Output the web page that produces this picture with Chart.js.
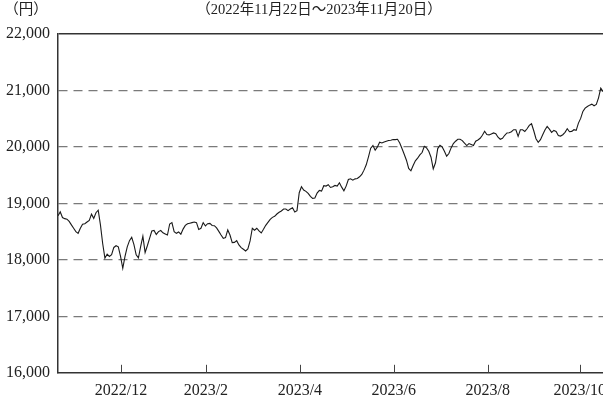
<!DOCTYPE html>
<html>
<head>
<meta charset="utf-8">
<script src="https://cdn.jsdelivr.net/npm/chart.js@4.4.1/dist/chart.umd.min.js"></script>
<style>
  html, body { margin: 0; padding: 0; background: #fff; overflow: hidden; }
  #wrap { width: 603px; height: 401px; }
</style>
</head>
<body>
<div id="wrap"><canvas id="chart" width="603" height="401"></canvas></div>
<script>
// daily close, 2022/11/22 - 2023/11/20 (trading day index)
const prices = [
  18780, 18850, 18750, 18730, 18720, 18680, 18620, 18560, 18500, 18470,
  18560, 18630, 18640, 18670, 18700, 18810, 18735, 18835, 18880, 18620,
  18290, 18030, 18100, 18060, 18090, 18220, 18250, 18230, 18060, 17850,
  18060, 18230, 18340, 18400, 18270, 18090, 18035, 18235, 18420, 18130,
  18250, 18380, 18510, 18520, 18450, 18500, 18520, 18480, 18460, 18440,
  18635, 18660, 18500, 18470, 18495, 18455, 18545, 18610, 18640, 18650,
  18660, 18670, 18660, 18540, 18560, 18660, 18600, 18640, 18645, 18610,
  18605, 18565, 18505, 18440, 18380, 18395, 18530, 18440, 18305, 18310,
  18340, 18265, 18217, 18188, 18158, 18194, 18335, 18560, 18524, 18560,
  18512, 18476, 18541, 18612, 18665, 18718, 18753, 18771, 18812, 18842,
  18865, 18900, 18900, 18871, 18900, 18924, 18848, 18871, 19189, 19295,
  19236, 19213, 19177, 19124, 19089, 19095, 19183, 19230, 19218, 19313,
  19307, 19330, 19282, 19294, 19318, 19306, 19365, 19288, 19223, 19306,
  19424, 19435, 19412, 19435, 19441, 19471, 19512, 19589, 19683, 19824,
  19977, 20024, 19942, 20001, 20083, 20071, 20089, 20101, 20113, 20119,
  20130, 20130, 20136, 20071, 19971, 19871, 19765, 19618, 19577, 19671,
  19753, 19800, 19859, 19901, 20010, 19983, 19924, 19818, 19610, 19720,
  19971, 20030, 20001, 19924, 19836, 19883, 19983, 20060, 20101, 20136,
  20136, 20113, 20066, 20024, 20060, 20042, 20024, 20101, 20124, 20154,
  20207, 20278, 20219, 20213, 20230, 20248, 20236, 20172, 20136, 20154,
  20207, 20248, 20250, 20269, 20305, 20305, 20187, 20305, 20305, 20275,
  20322, 20381, 20411, 20287, 20146, 20081, 20128, 20216, 20299, 20364,
  20316, 20258, 20293, 20275, 20204, 20193, 20216, 20258, 20322, 20269,
  20275, 20305, 20293, 20422, 20505, 20629, 20687, 20717, 20740, 20758,
  20729, 20752, 20870, 21040, 20980
];

// x tick labels and the trading-day index they sit on
const tickLabels = ["2022/12", "2023/2", "2023/4", "2023/6", "2023/8", "2023/10"];
const tickIndex = [28.2, 66.2, 108.3, 150.3, 192.4, 233.6];

const unitLabel = "（円）";
const periodLabel = "（2022年11月22日～2023年11月20日）";

const yMin = 16000, yMax = 22000, yStep = 1000;

Chart.defaults.font.family = "'Liberation Serif', 'Noto Sans CJK JP', serif";
Chart.defaults.font.size = 16;
Chart.defaults.color = "#222";

// small tick marks pointing up from the x axis
const upTicks = {
  id: "upTicks",
  afterDatasetsDraw(chart) {
    const x = chart.scales.x, ctx = chart.ctx, bottom = chart.chartArea.bottom;
    ctx.save();
    ctx.strokeStyle = "#444";
    ctx.lineWidth = 1;
    x.ticks.forEach(t => {
      const px = Math.round(x.getPixelForValue(t.value)) + 0.5;
      ctx.beginPath();
      ctx.moveTo(px, bottom);
      ctx.lineTo(px, bottom - 8);
      ctx.stroke();
    });
    ctx.restore();
  }
};

// header texts
const header = {
  id: "header",
  afterDraw(chart) {
    const ctx = chart.ctx;
    ctx.save();
    ctx.fillStyle = "#222";
    ctx.font = "14.5px 'Liberation Serif', 'Noto Sans CJK JP', serif";
    ctx.textBaseline = "middle";
    ctx.textAlign = "center";
    ctx.fillText(unitLabel, 26, 10);
    ctx.fillText(periodLabel, chart.chartArea.left + 261, 10);
    ctx.restore();
  }
};

new Chart(document.getElementById("chart"), {
  type: "line",
  data: {
    datasets: [{
      data: prices.map((v, i) => ({ x: i, y: v })),
      borderColor: "#1a1a1a",
      borderWidth: 1.1,
      pointRadius: 0,
      tension: 0,
      fill: false
    }]
  },
  options: {
    responsive: false,
    animation: false,
    layout: { padding: { top: 34, right: 0, bottom: -7, left: 0 } },
    plugins: { legend: { display: false }, tooltip: { enabled: false } },
    scales: {
      x: {
        type: "linear",
        min: 0,
        max: prices.length - 1,
        afterBuildTicks: s => { s.ticks = tickIndex.map(v => ({ value: v })); },
        afterFit: s => { s.paddingLeft = 0; s.paddingRight = 0; },
        ticks: {
          autoSkip: false,
          maxRotation: 0,
          padding: 8,
          callback: (v) => tickLabels[tickIndex.indexOf(v)]
        },
        grid: { display: false, drawTicks: false },
        border: { display: true, color: "#333", width: 1.5 }
      },
      y: {
        min: yMin,
        max: yMax,
        afterFit: s => { s.width = 58; },
        ticks: {
          stepSize: yStep,
          padding: 8,
          callback: v => v.toLocaleString("en-US")
        },
        grid: {
          drawTicks: false,
          color: c => (c.tick && c.tick.value === yMax) ? "#333" : (c.tick && c.tick.value === yMin ? "rgba(0,0,0,0)" : "#7a7a7a"),
          lineWidth: c => (c.tick && c.tick.value === yMax) ? 1.5 : 1.3
        },
        border: {
          display: true,
          color: "#333",
          width: 1.5,
          dash: c => (c.tick && c.tick.value !== yMax) ? [9, 6] : []
        }
      }
    }
  },
  plugins: [upTicks, header]
});
</script>
</body>
</html>
